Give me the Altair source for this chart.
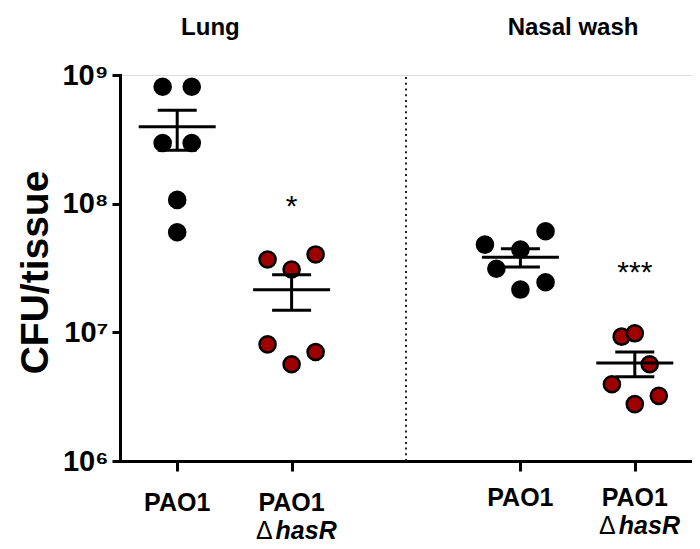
import altair as alt
import pandas as pd

# ---- data ----
group_names = ["Lung PAO1", "Lung PAO1 ΔhasR", "Nasal PAO1", "Nasal PAO1 ΔhasR"]
group_pos = [0, 1, 3, 4]
group_strain = ["PAO1", "ΔhasR", "PAO1", "ΔhasR"]
group_tissue = ["Lung", "Lung", "Nasal wash", "Nasal wash"]

cfu_lung_pao1 = [8.1e8, 8.1e8, 2.96e8, 2.96e8, 1.07e8, 6.0e7]
cfu_lung_hasr = [3.68e7, 4.03e7, 3.08e7, 8.07e6, 5.65e6, 7.03e6]
cfu_nasal_pao1 = [4.81e7, 4.40e7, 6.10e7, 3.12e7, 2.15e7, 2.45e7]
cfu_nasal_hasr = [9.26e6, 9.83e6, 5.65e6, 3.95e6, 2.77e6, 3.21e6]

# horizontal scatter of the dots within each column (in column units)
spread_lung_pao1 = [-0.127, 0.127, -0.127, 0.127, 0.0, 0.0]
spread_lung_hasr = [-0.21, 0.21, 0.0, -0.21, 0.0, 0.21]
spread_nasal_pao1 = [-0.31, 0.0, 0.22, -0.21, 0.0, 0.22]
spread_nasal_hasr = [-0.115, 0.0, 0.13, -0.2, 0.0, 0.21]

y_ticks = [1e6, 1e7, 1e8, 1e9]
x_tick_labels = ["PAO1", "PAO1", "PAO1", "PAO1"]
mutant_label = "hasR"

sig_pos = [1, 4]
sig_text = ["*", "***"]
sig_value = [1.04e8, 3.2e7]

panel_titles = ["Lung", "Nasal wash"]
panel_title_pos = [0.29, 3.46]
divider_pos = [2]

# ---- tables ----
all_cfu = [cfu_lung_pao1, cfu_lung_hasr, cfu_nasal_pao1, cfu_nasal_hasr]
all_spread = [spread_lung_pao1, spread_lung_hasr, spread_nasal_pao1, spread_nasal_hasr]
rows = []
for name, pos, strain, vals, spr in zip(group_names, group_pos, group_strain, all_cfu, all_spread):
    for v, s in zip(vals, spr):
        rows.append({"group": name, "pos": pos, "strain": strain, "cfu": v, "xp": pos + s})
pts = pd.DataFrame(rows)

labels_df = pd.DataFrame({"pos": group_pos, "label": x_tick_labels, "strain": group_strain,
                          "tissue": group_tissue})
sig_df = pd.DataFrame({"pos": sig_pos, "text": sig_text, "y": sig_value})
title_df = pd.DataFrame({"pos": panel_title_pos, "text": panel_titles})
div_df = pd.DataFrame({"pos": divider_pos, "y1": [y_ticks[0]], "y2": [y_ticks[-1]]})

FONT = "Liberation Sans"
W, H = 572, 386

xscale = alt.Scale(domain=[-0.5, 4.5], nice=False, zero=False)
yscale = alt.Scale(type="log", domain=[1e6, 1e9], nice=False)

x_axis = alt.Axis(values=group_pos, labels=False, title=None, grid=False,
                  tickSize=10, tickWidth=3, tickColor="black",
                  domainWidth=3, domainColor="black", domainCap="square")
y_axis = alt.Axis(values=y_ticks, grid=False, title="CFU/tissue",
                  labelExpr="datum.value >= 1e9 ? '10⁹' : datum.value >= 1e8 ? '10⁸' : datum.value >= 1e7 ? '10⁷' : '10⁶'",
                  labelFont=FONT, labelFontSize=29, labelFontWeight="bold", labelColor="black",
                  labelPadding=4, tickSize=8, tickWidth=3, tickColor="black",
                  domainWidth=3, domainColor="black", domainCap="square",
                  titleFont=FONT, titleFontSize=39, titleFontWeight="bold", titleColor="black",
                  titleAngle=-90, titleX=-73, titleY=197, titleAlign="center",
                  titleBaseline="alphabetic")

base_x = alt.X("xp:Q", scale=xscale, axis=x_axis)

divider = alt.Chart(div_df).mark_rule(color="#222222", strokeWidth=2, strokeDash=[2, 3.7]).encode(
    x=alt.X("pos:Q", scale=xscale, axis=x_axis),
    y=alt.Y("y1:Q", scale=yscale, axis=y_axis),
    y2="y2:Q",
)

points = alt.Chart(pts).mark_point(filled=True, size=260, opacity=1, stroke="black", strokeWidth=2.5).encode(
    x=base_x,
    y=alt.Y("cfu:Q", scale=yscale, axis=y_axis),
    fill=alt.Fill("strain:N", scale=alt.Scale(domain=["PAO1", "ΔhasR"], range=["#000000", "#9e0000"]), legend=None),
)

stats = alt.Chart(pts).transform_aggregate(
    m="mean(cfu)", se="stderr(cfu)", groupby=["pos"]
).transform_calculate(lo="datum.m - datum.se", hi="datum.m + datum.se")

mean_tick = stats.mark_tick(orient="horizontal", size=77, thickness=3, color="black", opacity=1).encode(
    x=alt.X("pos:Q", scale=xscale), y=alt.Y("m:Q", scale=yscale))
cap_lo = stats.mark_tick(orient="horizontal", size=39, thickness=3, color="black", opacity=1).encode(
    x=alt.X("pos:Q", scale=xscale), y=alt.Y("lo:Q", scale=yscale))
cap_hi = stats.mark_tick(orient="horizontal", size=39, thickness=3, color="black", opacity=1).encode(
    x=alt.X("pos:Q", scale=xscale), y=alt.Y("hi:Q", scale=yscale))
err_rule = stats.mark_rule(color="black", strokeWidth=3).encode(
    x=alt.X("pos:Q", scale=xscale), y=alt.Y("lo:Q", scale=yscale), y2="hi:Q")

sig = alt.Chart(sig_df).mark_text(font=FONT, fontSize=30, color="black", align="center",
                                  baseline="alphabetic", dy=15).encode(
    x=alt.X("pos:Q", scale=xscale), y=alt.Y("y:Q", scale=yscale), text="text:N")

titles = alt.Chart(title_df).mark_text(font=FONT, fontSize=24, fontWeight="bold", color="black",
                                       align="center", baseline="alphabetic").encode(
    x=alt.X("pos:Q", scale=xscale), y=alt.value(-40), text="text:N")

text_style = dict(font=FONT, fontSize=25, color="black", baseline="alphabetic")
lung_lab = labels_df[labels_df["tissue"] == "Lung"]
nasal_lab = labels_df[labels_df["tissue"] == "Nasal wash"]


def label_rows(df, y_top, y_bottom):
    top = alt.Chart(df).mark_text(fontWeight="bold", align="center", **text_style).encode(
        x=alt.X("pos:Q", scale=xscale), y=alt.value(y_top), text="label:N")
    mut = df[df["strain"] == "ΔhasR"]
    delta = alt.Chart(mut).mark_text(text="Δ", align="right", dx=-19, **text_style).encode(
        x=alt.X("pos:Q", scale=xscale), y=alt.value(y_bottom))
    hasr = alt.Chart(mut).mark_text(text=mutant_label, fontWeight="bold", fontStyle="italic",
                                    align="left", dx=-16, **text_style).encode(
        x=alt.X("pos:Q", scale=xscale), y=alt.value(y_bottom))
    return [top, delta, hasr]


label_layers = label_rows(lung_lab, 436, 464) + label_rows(nasal_lab, 431, 459)

chart = alt.layer(divider, points, err_rule, mean_tick, cap_lo, cap_hi, sig, titles,
                  *label_layers).properties(
    width=W, height=H,
    autosize=alt.AutoSizeParams(type="none"),
    padding={"left": 112, "top": 67, "right": 0, "bottom": 90},
).configure_view(stroke=None).configure(background="white")

chart.save("out.html", embed_options={"renderer": "svg", "actions": False})
